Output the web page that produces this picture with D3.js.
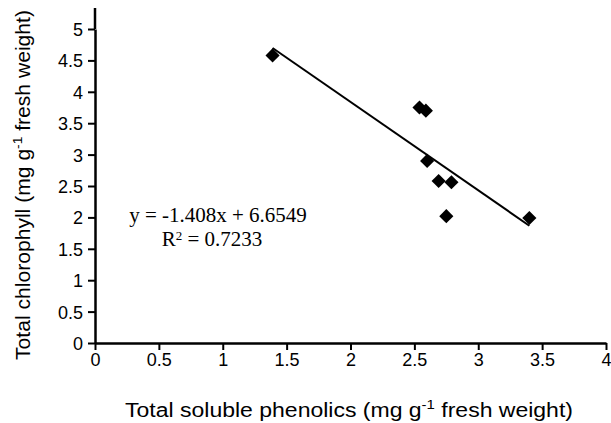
<!DOCTYPE html>
<html>
<head>
<meta charset="utf-8">
<script src="https://cdn.jsdelivr.net/npm/d3@7"></script>
<style>
  body { margin: 0; background: #fff; }
  .tick text { font-family: "Liberation Sans", Arial, sans-serif; font-size: 18px; fill: #000; }
  .aText { font-family: "Liberation Sans", Arial, sans-serif; font-size: 20px; fill: #000; }
  .eq { font-family: "Liberation Serif", "Times New Roman", serif; font-size: 21px; fill: #000; }
</style>
</head>
<body>
<div id="scatter"></div>
<script>
// data
var phenolics = [1.39, 2.54, 2.59, 2.60, 2.69, 2.79, 2.75, 3.40];
var chlorophyll = [4.58, 3.75, 3.70, 2.90, 2.58, 2.56, 2.02, 1.99];
var xTicks = [0, 0.5, 1, 1.5, 2, 2.5, 3, 3.5, 4];
var yTicks = [0, 0.5, 1, 1.5, 2, 2.5, 3, 3.5, 4, 4.5, 5];
var slope = -1.408;
var intercept = 6.6549;

var svgWidth = 611;
var svgHeight = 423;

var margin = { top: 29, right: 5, bottom: 80, left: 95 };

var width = 606 - margin.left;
var height = 343 - margin.top;

var svg = d3.select("#scatter")
  .append("svg")
  .attr("width", svgWidth)
  .attr("height", svgHeight);

var chartGroup = svg.append("g")
  .attr("transform", `translate(${margin.left}, ${margin.top})`);

var chartData = phenolics.map((x, i) => ({ x: x, y: chlorophyll[i] }));

var xLinearScale = d3.scaleLinear().domain([0, 4]).range([0, width]);
var yLinearScale = d3.scaleLinear().domain([0, 5]).range([height, 0]);

var fmt = d3.format("~g");
var bottomAxis = d3.axisBottom(xLinearScale).tickValues(xTicks).tickFormat(fmt)
  .tickSize(7).tickSizeOuter(0).tickPadding(3);
var leftAxis = d3.axisLeft(yLinearScale).tickValues(yTicks).tickFormat(fmt)
  .tickSize(7).tickSizeOuter(0).tickPadding(5);

var xg = chartGroup.append("g")
  .attr("transform", `translate(0, ${height})`)
  .call(bottomAxis);

var yg = chartGroup.append("g")
  .call(leftAxis);

[xg, yg].forEach(g => {
  g.select(".domain").attr("stroke", "#000").attr("stroke-width", 2.5);
  g.selectAll(".tick line").attr("stroke", "#000").attr("stroke-width", 2);
});
yg.selectAll(".tick text").attr("dy", "0.36em");

// y axis line runs a bit above the top tick
chartGroup.append("line")
  .attr("x1", 0).attr("x2", 0)
  .attr("y1", yLinearScale(5)).attr("y2", -21)
  .attr("stroke", "#000").attr("stroke-width", 2.5);

// trendline
var xMin = d3.min(phenolics), xMax = d3.max(phenolics);
chartGroup.append("line")
  .attr("x1", xLinearScale(xMin)).attr("y1", yLinearScale(slope * xMin + intercept))
  .attr("x2", xLinearScale(xMax)).attr("y2", yLinearScale(slope * xMax + intercept))
  .attr("stroke", "#000").attr("stroke-width", 2);

// diamond markers
chartGroup.selectAll("rect.pt")
  .data(chartData)
  .join("rect")
  .attr("class", "pt")
  .attr("x", -5).attr("y", -5)
  .attr("width", 10).attr("height", 10)
  .attr("transform", d => `translate(${xLinearScale(d.x)}, ${yLinearScale(d.y)}) rotate(45)`)
  .attr("fill", "#000");

// equation
chartGroup.append("text")
  .attr("class", "eq")
  .attr("x", 218 - margin.left).attr("y", 222 - margin.top)
  .attr("text-anchor", "middle")
  .text("y = -1.408x + 6.6549");

var r2 = chartGroup.append("text")
  .attr("class", "eq")
  .attr("x", 212 - margin.left).attr("y", 246 - margin.top)
  .attr("text-anchor", "middle");
r2.append("tspan").text("R");
r2.append("tspan").attr("font-size", "13px").attr("dy", -6).text("2");
r2.append("tspan").attr("dy", 6).text(" = 0.7233");

// axis titles
var xt = svg.append("text")
  .attr("class", "aText")
  .attr("x", 349).attr("y", 417)
  .attr("text-anchor", "middle")
  .attr("textLength", 448).attr("lengthAdjust", "spacingAndGlyphs");
xt.append("tspan").text("Total soluble phenolics (mg g");
xt.append("tspan").attr("font-size", "13px").attr("dy", -8).text("-1");
xt.append("tspan").attr("dy", 8).text(" fresh weight)");

var yt = svg.append("text")
  .attr("class", "aText")
  .attr("transform", "translate(30, 185) rotate(-90)")
  .attr("text-anchor", "middle")
  .attr("textLength", 350).attr("lengthAdjust", "spacingAndGlyphs");
yt.append("tspan").text("Total chlorophyll (mg g");
yt.append("tspan").attr("font-size", "13px").attr("dy", -8).text("-1");
yt.append("tspan").attr("dy", 8).text(" fresh weight)");
</script>
</body>
</html>
